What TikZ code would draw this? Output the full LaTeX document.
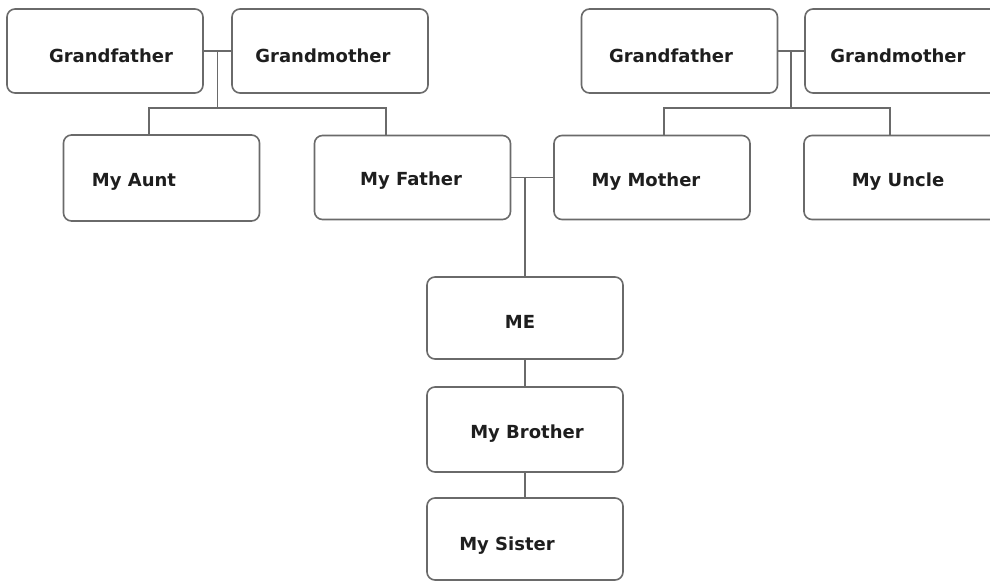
\documentclass[tikz,border=0pt]{standalone}
\usepackage{fontspec}
\setmainfont{DejaVu Sans}
\usetikzlibrary{calc}
\definecolor{edge}{HTML}{6A6A6A}
\definecolor{ink}{HTML}{1E1E1E}
\tikzset{
  famcard/.style={draw=edge, line width=1.6pt, rounded corners=8pt, fill=white,
    inner sep=0pt, minimum width=196pt, minimum height=84pt},
  famtext/.style={text=ink, font=\bfseries\fontsize{18}{21}\selectfont, inner sep=0pt},
  famline/.style={draw=edge, line width=1.6pt}
}
\begin{document}
\begin{tikzpicture}[x=1pt,y=-1pt]
\useasboundingbox (0,0) rectangle (990,583);
\clip (0,0) rectangle (990,583);
\fill[white] (0,0) rectangle (990,583);
% boxes
\node[famcard] (gf1) at (105,51) {};
\node[famcard] (gm1) at (330,51) {};
\node[famcard, minimum height=86pt] (aunt) at (161.5,178) {};
\node[famcard] (father) at (412.5,177.5) {};
\node[famcard] (gf2) at (679.5,51) {};
\node[famcard] (gm2) at (903,51) {};
\node[famcard] (mother) at (652,177.5) {};
\node[famcard] (uncle) at (902,177.5) {};
\node[famcard, minimum height=82pt] (me) at (525,318) {};
\node[famcard, minimum height=85pt] (brother) at (525,429.5) {};
\node[famcard, minimum height=82pt] (sister) at (525,539) {};
% texts
\node[famtext] (tgf1) at (111,56) {Grandfather};
\node[famtext] (tgm1) at (323,56) {Grandmother};
\node[famtext] (taunt) at (134,182) {My Aunt};
\node[famtext] (tfather) at (411,181) {My Father};
\node[famtext] (tgf2) at (671,56) {Grandfather};
\node[famtext] (tgm2) at (898,56) {Grandmother};
\node[famtext] (tmother) at (646,182) {My Mother};
\node[famtext] (tuncle) at (898,182) {My Uncle};
\node[famtext] (tme) at (520,322) {ME};
\node[famtext] (tbrother) at (527,434) {My Brother};
\node[famtext] (tsister) at (507,546) {My Sister};
% left grandparents
\coordinate (j1) at ($(gf1.east)!0.5!(gm1.west)$);
\coordinate (a1) at (149,108);
\coordinate (f1) at (386,108);
\draw[famline] (gf1.east) -- (gm1.west);
\draw[famline] (j1) -- (j1 |- a1);
\draw[famline] (a1 |- aunt.north) -- (a1) -- (f1) -- (f1 |- father.north);
% right grandparents
\coordinate (j2) at ($(gf2.east)!0.5!(gm2.west)$);
\coordinate (m1) at (664,108);
\coordinate (u1) at (890,108);
\draw[famline] (gf2.east) -- (gm2.west);
\draw[famline] (j2) -- (j2 |- m1);
\draw[famline] (m1 |- mother.north) -- (m1) -- (u1) -- (u1 |- uncle.north);
% parents and children
\draw[famline] (father.east) -- (mother.west);
\draw[famline] (me.north |- father.east) -- (me.north);
\draw[famline] (me.south) -- (brother.north);
\draw[famline] (brother.south) -- (sister.north);
\end{tikzpicture}
\end{document}
